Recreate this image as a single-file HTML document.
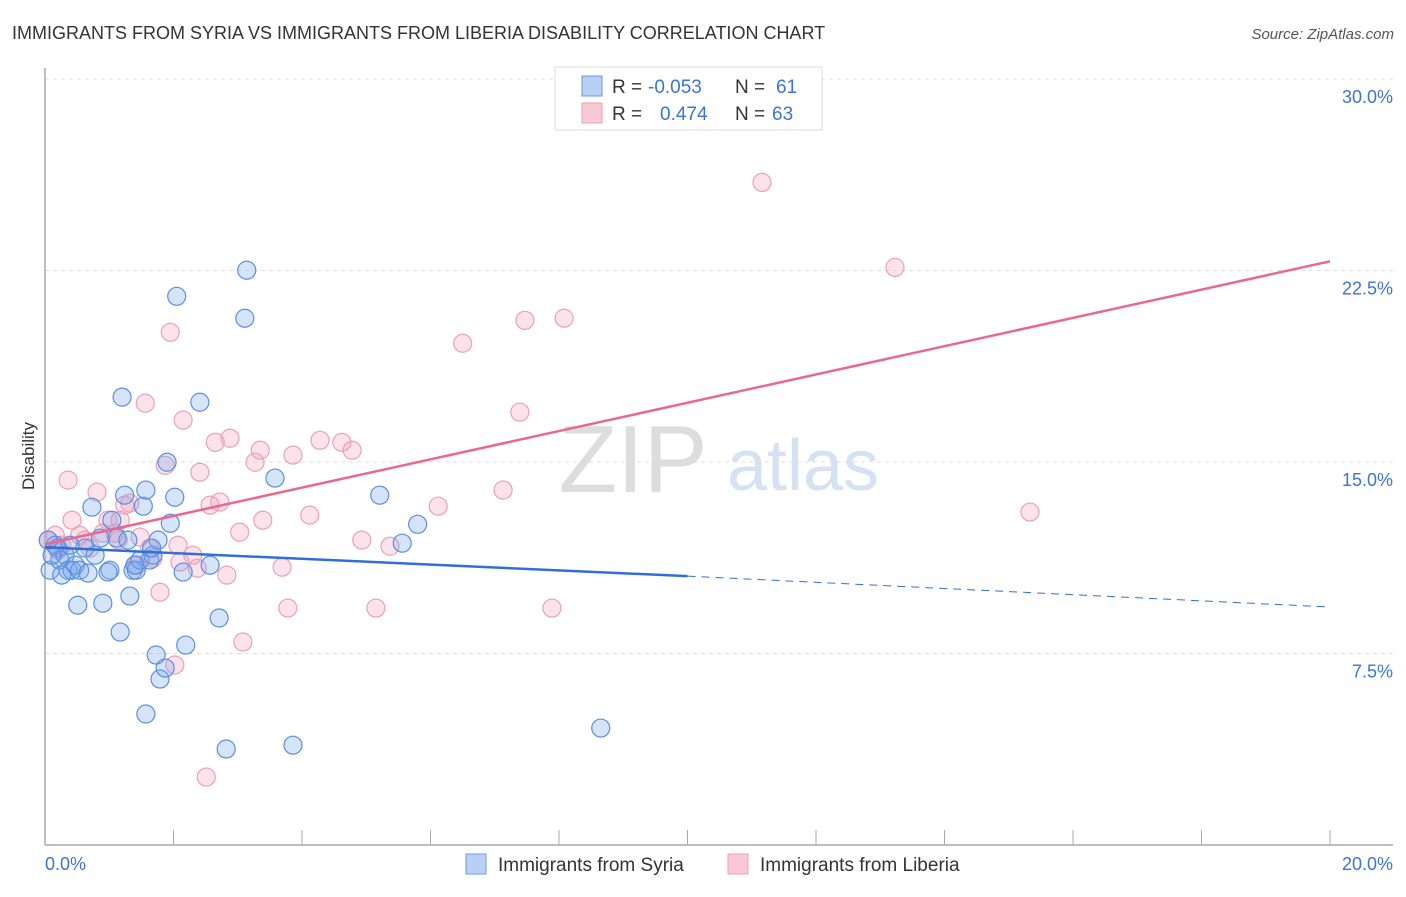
<!DOCTYPE html>
<html><head><meta charset="utf-8">
<style>
body{margin:0;background:#fff;font-family:"Liberation Sans",sans-serif;}
svg text{font-family:"Liberation Sans",sans-serif;}
</style></head>
<body>
<svg id="chart" width="1406" height="892" xmlns="http://www.w3.org/2000/svg">
<text x="12" y="39" font-size="18" fill="#333">IMMIGRANTS FROM SYRIA VS IMMIGRANTS FROM LIBERIA DISABILITY CORRELATION CHART</text>
<text x="1394" y="39" font-size="15" fill="#555" text-anchor="end" font-style="italic">Source: ZipAtlas.com</text>
<g>
<text x="633" y="492" font-size="96" fill="#ddd" font-family="Liberation Serif" text-anchor="middle">ZIP</text>
<text x="803" y="490" font-size="72" fill="#d5e2f3" text-anchor="middle">atlas</text>
</g>
<g id="grid"></g>
<g id="axes"></g>
<g id="marks"></g>
<text transform="translate(34,456) rotate(-90)" font-size="17" fill="#333" text-anchor="middle">Disability</text>
<g>
<rect x="555" y="67" width="267" height="63" fill="#fff" stroke="#ddd"/>
<rect x="582" y="76" width="20" height="20" fill="#b8d0f3" stroke="#6a9ae0"/>
<rect x="582" y="103" width="20" height="20" fill="#f8c8d6" stroke="#eba0b8"/>
<text x="612" y="93" font-size="19" fill="#333">R = </text><text x="648" y="93" font-size="19" fill="#3a74d6">-0.053</text>
<text x="735" y="93" font-size="19" fill="#333">N = </text><text x="776" y="93" font-size="19" fill="#3a74d6">61</text>
<text x="612" y="120" font-size="19" fill="#333">R = </text><text x="660" y="120" font-size="19" fill="#3a74d6">0.474</text>
<text x="735" y="120" font-size="19" fill="#333">N = </text><text x="772" y="120" font-size="19" fill="#3a74d6">63</text>
</g>
<g>
<rect x="466" y="854" width="20" height="20" fill="#b8d0f3" stroke="#6a9ae0"/>
<text x="498" y="871" font-size="19" fill="#333">Immigrants from Syria</text>
<rect x="728" y="854" width="20" height="20" fill="#f8c8d6" stroke="#eba0b8"/>
<text x="760" y="871" font-size="19" fill="#333">Immigrants from Liberia</text>
</g>
</svg>
<script>
const xTicks=[0,2,4,6,8,10,12,14,16,18,20];
const yTicks=[7.5,15,22.5,30];
const yTickLabels=["7.5%","15.0%","22.5%","30.0%"];
const syriaX=[0.08,0.16,0.2,0.23,0.31,0.36,0.42,0.47,0.54,0.62,0.67,0.51,0.73,0.86,0.9,1.01,1.04,1.12,1.17,1.2,1.24,1.29,1.32,1.37,1.42,1.48,1.53,1.57,1.57,1.63,1.68,1.73,1.76,1.79,1.87,1.9,1.95,2.02,2.05,2.15,2.19,2.41,2.57,2.71,2.82,3.11,3.14,3.58,3.86,5.21,5.56,5.8,8.65,0.05,0.11,0.26,0.39,0.78,0.98,1.4,1.66];
const syriaY=[10.76,11.74,11.63,11.16,11.35,10.76,10.76,10.96,10.76,11.63,10.65,9.39,13.23,12.02,9.47,10.76,12.72,12.02,8.34,17.54,13.7,11.94,9.75,10.76,10.76,11.16,13.27,13.9,5.13,11.16,11.35,7.44,11.94,6.5,6.93,14.99,12.6,13.62,21.49,10.69,7.83,17.34,10.96,8.89,3.76,20.63,22.51,14.37,3.91,13.7,11.82,12.56,4.58,11.94,11.35,10.57,11.74,11.35,10.69,10.96,11.63];
const liberiaX=[0.05,0.2,0.26,0.36,0.42,0.54,0.62,0.81,0.9,0.98,1.09,1.14,1.24,1.32,1.43,1.48,1.56,1.63,1.68,1.79,1.87,1.95,2.02,2.1,2.15,2.3,2.37,2.41,2.57,2.65,2.72,2.83,2.88,3.03,3.08,3.27,3.35,3.39,3.69,3.78,3.86,4.12,4.28,4.62,4.78,4.93,5.15,5.37,6.12,6.5,7.13,7.39,7.47,7.89,8.08,11.16,13.23,15.33,2.51,2.07,1.17,0.7,0.16];
const liberiaY=[11.94,11.55,11.74,14.29,12.72,12.13,11.94,13.82,12.21,12.72,12.21,11.94,13.31,13.39,10.96,12.06,17.3,11.63,11.23,9.9,14.87,20.08,7.05,11.08,16.64,11.35,10.84,14.6,13.31,15.77,13.43,10.57,15.93,12.25,7.95,14.99,15.46,12.72,10.88,9.28,15.27,12.92,15.85,15.77,15.46,11.94,9.28,11.7,13.27,19.65,13.9,16.95,20.55,9.28,20.63,25.95,22.62,13.04,2.66,11.74,12.72,11.63,12.13];
const syriaTrend=[11.66,10.53,9.32]; // at x=0,10,20
const liberiaTrend=[11.78,22.86]; // at x=0,20

const NS="http://www.w3.org/2000/svg";
const X=v=>45+v/20*1285;
const Y=v=>845-v/30*766;
function mk(tag,attrs,parent){const e=document.createElementNS(NS,tag);for(const k in attrs)e.setAttribute(k,attrs[k]);parent.appendChild(e);return e;}
const grid=document.getElementById('grid'),axes=document.getElementById('axes'),marks=document.getElementById('marks');
yTicks.forEach((t,i)=>{
 const l=mk('line',{x1:45,x2:1393,y1:Y(t),y2:Y(t),stroke:'#ddd','stroke-dasharray':'4,4'},grid);
 
 
 const tx=mk('text',{x:1393,y:Y(t)+24,'font-size':18,fill:'#3a74d6','text-anchor':'end'},axes);
 tx.textContent=yTickLabels[i];
 
 
});
const ya=mk('line',{x1:45,x2:45,y1:68,y2:845,stroke:'#aaa','stroke-width':1.5},axes);


const xa=mk('line',{x1:45,x2:1393,y1:845,y2:845,stroke:'#aaa','stroke-width':1.5},axes);


xTicks.forEach(t=>{
 const l=mk('line',{x1:X(t),x2:X(t),y1:830,y2:845,stroke:'#aaa'},axes);
 
 
});
const xl0=mk('text',{x:45,y:870,'font-size':18,fill:'#3a74d6'},axes);xl0.textContent=xTicks[0].toFixed(1)+'%';


const xl1=mk('text',{x:1393,y:870,'font-size':18,fill:'#3a74d6','text-anchor':'end'},axes);xl1.textContent=xTicks[xTicks.length-1].toFixed(1)+'%';



liberiaX.forEach((x,i)=>{
 const c=mk('circle',{cx:X(x),cy:Y(liberiaY[i]),r:9,fill:'rgba(242,160,188,0.3)',stroke:'#eaa0b9','stroke-width':1.2},marks);
 
 
});
syriaX.forEach((x,i)=>{
 const c=mk('circle',{cx:X(x),cy:Y(syriaY[i]),r:9,fill:'rgba(120,165,235,0.3)',stroke:'#5a8fe0','stroke-width':1.2},marks);
 
 
});
const t1=mk('line',{x1:X(0),y1:Y(syriaTrend[0]),x2:X(10),y2:Y(syriaTrend[1]),stroke:'#2f6fd6','stroke-width':2.5},marks);


const t2=mk('line',{x1:X(10),y1:Y(syriaTrend[1]),x2:X(20),y2:Y(syriaTrend[2]),stroke:'#2f6fd6','stroke-width':1,'stroke-dasharray':'8,6'},marks);


const t3=mk('line',{x1:X(0),y1:Y(liberiaTrend[0]),x2:X(20),y2:Y(liberiaTrend[1]),stroke:'#e8688f','stroke-width':2.5},marks);


</script>
</body></html>
